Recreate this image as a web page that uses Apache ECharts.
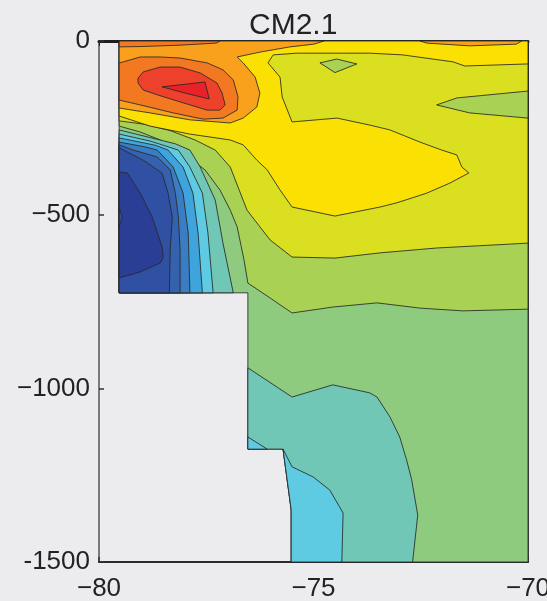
<!DOCTYPE html>
<html><head><meta charset="utf-8">
<script src="https://cdn.jsdelivr.net/npm/echarts@6/dist/echarts.min.js"></script>
<style>html,body{margin:0;padding:0;background:#ececef;} #c{width:547px;height:601px;}</style>
</head><body><div id="c"></div>
<script>
// tick labels
const xTicks = [-80, -75, -70];
const yTicks = [0, -500, -1000, -1500];
// contour level colours (low -> high)
const levelColors = ['#2b3e96','#3050a4','#3562af','#3b7dc3','#3fa3dc','#5ecbe3','#71c7b5','#8ecb7e','#a9d153','#dadf1f','#fbe003','#f9a11d','#f37822','#ee412b','#ea2128'];

// contour regions: [longitude, depth (m)]
const domain = [[-79.53,0],[-70,0],[-70,-1500],[-75.52,-1500],[-75.52,-1350],[-75.71,-1175],[-76.53,-1175],[-76.53,-725],[-79.53,-725]];
const tealBottom = [[-76.53,-941],[-75.50,-1025],[-74.55,-990],[-73.69,-1013],[-73.52,-1025],[-73.22,-1082],[-72.99,-1140],[-72.92,-1169],[-72.83,-1206],[-72.71,-1264],[-72.57,-1365],[-72.69,-1500],[-75.52,-1500],[-75.52,-1350],[-75.71,-1175],[-76.53,-1175]];
const cyanBottom = [[-75.71,-1175],[-75.50,-1226],[-75.01,-1255],[-74.62,-1293],[-74.31,-1359],[-74.34,-1500],[-75.52,-1500],[-75.52,-1350]];
const cyanWall = [[-76.53,-1140],[-76.08,-1175],[-76.53,-1175]];
const lgUpper = [[-79.53,0],[-70,0],[-70,-772],[-71.52,-777],[-72.52,-769],[-73.52,-754],[-74.55,-766],[-75.50,-783],[-76.01,-740],[-76.53,-697],[-76.62,-630],[-76.78,-535],[-76.94,-487],[-77.18,-429],[-77.53,-371],[-77.99,-328],[-78.57,-285],[-79.04,-262],[-79.53,-245]];
const ygUpper = [[-79.53,0],[-70,0],[-70,-582],[-72.13,-596],[-73.45,-610],[-74.50,-625],[-75.50,-622],[-76.01,-573],[-76.55,-487],[-76.94,-363],[-77.29,-314],[-77.76,-285],[-78.34,-258],[-78.92,-240],[-79.53,-230]];
const lgTongue = [[-70,-144],[-71.66,-164],[-72.13,-184],[-71.36,-207],[-70,-222]];
const lgIsland = [[-74.85,-63],[-74.46,-52],[-73.99,-66],[-74.50,-91]];
const yellow = [[-79.53,-216],[-78.81,-245],[-77.88,-268],[-76.94,-285],[-76.64,-299],[-76.53,-314],[-76.32,-343],[-76.08,-371],[-75.78,-429],[-75.50,-478],[-74.50,-504],[-73.45,-478],[-73.06,-466],[-72.36,-438],[-71.82,-409],[-71.38,-380],[-71.54,-363],[-71.66,-328],[-72.01,-314],[-72.52,-291],[-73.22,-256],[-73.69,-242],[-74.45,-222],[-75.50,-233],[-75.73,-161],[-75.78,-104],[-76.06,-63],[-75.94,-40],[-75.39,-35],[-74.45,-35],[-73.69,-35],[-72.92,-40],[-71.75,-60],[-71.47,-72],[-70,-66],[-70,0],[-79.53,0]];
const orange = [[-79.53,0],[-79.53,-193],[-78.81,-207],[-77.88,-227],[-76.94,-236],[-76.64,-222],[-76.32,-190],[-76.25,-150],[-76.36,-104],[-76.64,-63],[-76.78,-46],[-76.25,-32],[-75.55,-17],[-74.99,-9],[-74.76,0]];
const orangeLens = [[-72.52,0],[-72.36,-6],[-71.36,-14],[-70.27,-9],[-70.15,0]];
const darkOrangeTop = [[-79.53,0],[-77.18,0],[-77.27,-6],[-78.11,-12],[-79.04,-16],[-79.53,-17]];
const darkOrangeCore = [[-79.53,-63],[-79.43,-60],[-79.04,-46],[-78.57,-46],[-78.11,-49],[-77.48,-63],[-77.11,-83],[-76.87,-112],[-76.76,-161],[-76.78,-199],[-77.11,-222],[-77.57,-225],[-78.27,-207],[-79.04,-184],[-79.53,-170]];
const redCore = [[-79.09,-107],[-78.97,-89],[-78.57,-75],[-78.11,-75],[-77.64,-92],[-77.25,-121],[-77.13,-150],[-77.06,-184],[-77.18,-199],[-77.48,-199],[-78.04,-178],[-78.64,-155],[-78.97,-141],[-79.09,-121]];
const redInner = [[-78.53,-132],[-77.53,-118],[-77.43,-167],[-77.99,-150]];
const tealWest = [[-79.53,-256],[-78.81,-278],[-78.22,-296],[-77.88,-314],[-77.64,-363],[-77.29,-458],[-77.11,-582],[-76.87,-725],[-79.53,-725]];
const cyanWest = [[-79.53,-268],[-78.81,-288],[-78.15,-314],[-77.88,-363],[-77.59,-438],[-77.46,-553],[-77.34,-725],[-79.53,-725]];
const blue4West = [[-79.53,-279],[-78.69,-300],[-78.39,-314],[-78.04,-363],[-77.81,-438],[-77.69,-553],[-77.59,-725],[-79.53,-725]];
const blue3West = [[-79.53,-291],[-78.92,-305],[-78.64,-314],[-78.27,-363],[-78.04,-438],[-77.92,-553],[-77.88,-725],[-79.53,-725]];
const blue2West = [[-79.53,-299],[-79.20,-314],[-78.64,-334],[-78.34,-371],[-78.22,-438],[-78.15,-507],[-78.11,-602],[-78.11,-725],[-79.53,-725]];
const blue1West = [[-79.53,-306],[-79.43,-314],[-78.97,-343],[-78.53,-380],[-78.39,-438],[-78.29,-507],[-78.34,-602],[-78.36,-725],[-79.53,-725]];
const navyCore = [[-79.53,-377],[-79.34,-380],[-79.04,-438],[-78.76,-507],[-78.53,-593],[-78.50,-622],[-78.57,-639],[-79.04,-665],[-79.53,-682]];
const navyNotch = [[-79.53,-478],[-79.46,-507],[-79.53,-535]];

// drawing order (painter's algorithm) with contour level of each region
const layers = [
  [domain,7],[tealBottom,6],[cyanBottom,5],[cyanWall,5],
  [lgUpper,8],[ygUpper,9],[lgTongue,8],[lgIsland,8],
  [yellow,10],[orange,11],[orangeLens,11],[darkOrangeTop,12],[darkOrangeCore,12],
  [redCore,13],[redInner,14],
  [tealWest,6],[cyanWest,5],[blue4West,4],[blue3West,3],[blue2West,2],[blue1West,1],[navyCore,0],[navyNotch,1]
];

const fmt = v => (v < 0 ? '\u2212' + Math.abs(v) : String(v));
const font = 'Liberation Sans, Arial, Helvetica, sans-serif';
const chart = echarts.init(document.getElementById('c'), null, {renderer:'canvas'});
chart.setOption({
  backgroundColor: 'transparent',
  animation: false,
  title: {text: 'CM2.1', left: 244, top: 6, textStyle: {fontSize: 30, fontWeight: 'normal', color: '#222', fontFamily: font}},
  grid: {left: 99, right: 19, top: 41, bottom: 39, containLabel: false, outerBoundsMode: 'none'},
  xAxis: [
    {type: 'value', min: xTicks[0], max: xTicks[xTicks.length-1], interval: 5, position: 'bottom',
     axisLine: {onZero: false, lineStyle: {color: '#2a2a2a', width: 2}},
     axisTick: {inside: true, length: 5, lineStyle: {color: '#333', width: 1.5}},
     axisLabel: {formatter: fmt, fontSize: 26, color: '#222', margin: 14, fontFamily: font},
     splitLine: {show: false}},
    {type: 'value', min: xTicks[0], max: xTicks[xTicks.length-1], interval: 5, position: 'top',
     axisLine: {onZero: false, lineStyle: {color: '#1e1e1e', width: 3}},
     axisTick: {inside: true, length: 5}, axisLabel: {show: false}, splitLine: {show: false}}
  ],
  yAxis: [
    {type: 'value', min: yTicks[yTicks.length-1], max: yTicks[0], interval: 500, position: 'left',
     axisLine: {onZero: false, lineStyle: {color: '#555', width: 1.5}},
     axisTick: {inside: true, length: 5, lineStyle: {color: '#333', width: 1.5}},
     axisLabel: {formatter: v => (v === -1500 ? '-1500' : fmt(v)), fontSize: 26, color: '#222', margin: 9, fontFamily: font},
     splitLine: {show: false}},
    {type: 'value', min: yTicks[yTicks.length-1], max: yTicks[0], interval: 500, position: 'right',
     axisLine: {onZero: false, lineStyle: {color: '#444', width: 2}},
     axisTick: {inside: true, length: 5, lineStyle: {color: '#333', width: 1.5}},
     axisLabel: {show: false}, splitLine: {show: false}}
  ],
  series: [{
    type: 'custom',
    coordinateSystem: 'cartesian2d',
    xAxisIndex: 0, yAxisIndex: 0,
    z: 1,
    data: layers.map((l, i) => [i]),
    renderItem: (params, api) => {
      const L = layers[params.dataIndex];
      return {
        type: 'polygon',
        z2: params.dataIndex,
        shape: {points: L[0].map(p => api.coord(p))},
        style: {fill: levelColors[L[1]], stroke: 'rgba(40,40,40,0.85)', lineWidth: 1}
      };
    }
  }]
});
</script></body></html>
